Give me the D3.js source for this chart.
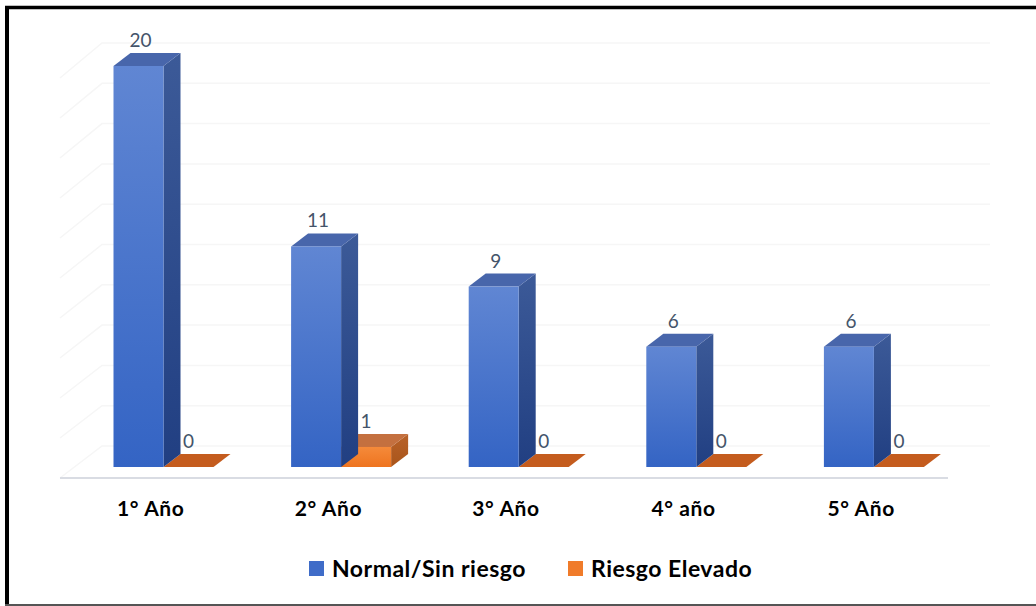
<!DOCTYPE html>
<html>
<head>
<meta charset="utf-8">
<script src="https://cdn.jsdelivr.net/npm/d3@7"></script>
<style>
  html, body { margin: 0; padding: 0; background: #fff; }
  svg { display: block; }
</style>
</head>
<body>
<div class="graph"></div>
<script>
(() => {
var categories = ['1° Año', '2° Año', '3° Año', '4° año', '5° Año'];
var seriesNames = ['Normal/Sin riesgo', 'Riesgo Elevado'];
var normal = [20, 11, 9, 6, 6];
var elevado = [0, 1, 0, 0, 0];
var gridTicks = [0, 2, 4, 6, 8, 10, 12, 14, 16, 18, 20];

var width = 1036, height = 606;
var font = 'Lato, "Open Sans", sans-serif';

var svg = d3.select('div.graph')
    .append('svg')
        .attr('width', width)
        .attr('height', height);

var defs = svg.append('defs');
function grad(id, c1, c2) {
    var g = defs.append('linearGradient')
        .attr('id', id)
        .attr('x1', 0).attr('y1', 0).attr('x2', 0).attr('y2', 1);
    g.append('stop').attr('offset', '0%').attr('stop-color', c1);
    g.append('stop').attr('offset', '100%').attr('stop-color', c2);
}
grad('blueFront', '#6086d3', '#3464c4');
grad('blueSide', '#3c5a98', '#213f82');
grad('orangeFront', '#f58a3a', '#ee741f');
grad('orangeSide', '#b8622a', '#a9551a');

// border
svg.append('line').attr('x1', 7).attr('x2', 7).attr('y1', 6).attr('y2', 606)
    .attr('stroke', '#000').attr('stroke-width', 4);
svg.append('line').attr('x1', 5).attr('x2', 1036).attr('y1', 7.5).attr('y2', 7.5)
    .attr('stroke', '#000').attr('stroke-width', 3.5);
svg.append('line').attr('x1', 5).attr('x2', 1036).attr('y1', 605).attr('y2', 605)
    .attr('stroke', '#555').attr('stroke-width', 2);

var x = d3.scaleBand()
    .domain(categories)
    .range([60, 948]);

// front plane of bars
var y = d3.scaleLinear()
    .domain([0, 20])
    .range([467, 66]);

// back wall
var yBack = d3.scaleLinear()
    .domain([0, 20])
    .range([446, 43]);
// front edge of floor / side wall
var yFront = d3.scaleLinear()
    .domain([0, 20])
    .range([478, 78]);

var wallDx = 42;
var dx = 17, dy = 13;
var barW = 50;

// gridlines: side wall diagonal + back wall horizontal
var grid = svg.append('g').attr('class', 'grid');
gridTicks.forEach((t) => {
    grid.append('path')
        .attr('d', 'M60,' + yFront(t) + 'L' + (60 + wallDx) + ',' + yBack(t) + 'L990,' + yBack(t))
        .attr('fill', 'none')
        .attr('stroke', '#f6f6f6')
        .attr('stroke-width', 1.5);
});

// floor front line
svg.append('line')
    .attr('x1', 60).attr('x2', 948)
    .attr('y1', 478).attr('y2', 478)
    .attr('stroke', '#d9dce3')
    .attr('stroke-width', 2);

function bar3d(g, x0, v, c) {
    var top = y(v), bot = y(0);
    var x1 = x0 + barW;
    // side
    if (v > 0) {
        g.append('path')
            .attr('d', 'M' + x1 + ',' + top + 'L' + (x1 + dx) + ',' + (top - dy) +
                'L' + (x1 + dx) + ',' + (bot - dy) + 'L' + x1 + ',' + bot + 'Z')
            .attr('fill', 'url(#' + c + 'Side)');
    }
    // top
    g.append('path')
        .attr('d', 'M' + x0 + ',' + top + 'L' + (x0 + dx) + ',' + (top - dy) +
            'L' + (x1 + dx) + ',' + (top - dy) + 'L' + x1 + ',' + top + 'Z')
        .attr('fill', v > 0 ? (c === 'blue' ? '#4866ab' : '#c4703f') : '#c45c1e');
    // front
    if (v > 0) {
        g.append('rect')
            .attr('x', x0).attr('y', top)
            .attr('width', barW).attr('height', bot - top)
            .attr('fill', 'url(#' + c + 'Front)');
    }
}

var bars = svg.append('g').attr('class', 'bars');
categories.forEach((cat, i) => {
    var bx = x(cat) + 53.5;
    var ox = bx + barW;
    var g = bars.append('g');
    bar3d(g, ox, elevado[i], 'orange');
    bar3d(g, bx, normal[i], 'blue');
});

// value labels
var labels = svg.append('g').attr('class', 'labels')
    .style('font-family', font)
    .style('font-size', '19px')
    .attr('fill', '#44546a')
    .attr('text-anchor', 'middle');
categories.forEach((cat, i) => {
    var bx = x(cat) + 53.5;
    labels.append('text')
        .attr('x', bx + barW / 2 + 2)
        .attr('y', y(normal[i]) - dy - 6)
        .text(normal[i]);
    labels.append('text')
        .attr('x', bx + barW + barW / 2)
        .attr('y', y(elevado[i]) - dy - 6)
        .text(elevado[i]);
});

// category axis labels
svg.append('g')
    .selectAll('text')
    .data(categories)
    .enter()
    .append('text')
        .attr('x', (d) => x(d) + x.bandwidth() / 2 + 2)
        .attr('y', 516)
        .attr('text-anchor', 'middle')
        .style('font-family', font)
        .style('font-size', '21px')
        .style('font-weight', 'bold')
        .style('letter-spacing', '0.6px')
        .attr('fill', '#000')
        .text((d) => d);

// legend
var legendX = [309, 568];
var legendColor = ['#3f6cc8', '#f07b2a'];
var legend = svg.append('g').attr('class', 'legend');
seriesNames.forEach((name, i) => {
    legend.append('rect')
        .attr('x', legendX[i]).attr('y', 561)
        .attr('width', 15).attr('height', 15)
        .attr('fill', legendColor[i]);
    legend.append('text')
        .attr('x', legendX[i] + 23)
        .attr('y', 577)
        .style('font-family', font)
        .style('font-size', '23px')
        .style('font-weight', 'bold')
        .style('letter-spacing', '0.5px')
        .attr('fill', '#000')
        .text(name);
});
})();
</script>
</body>
</html>
